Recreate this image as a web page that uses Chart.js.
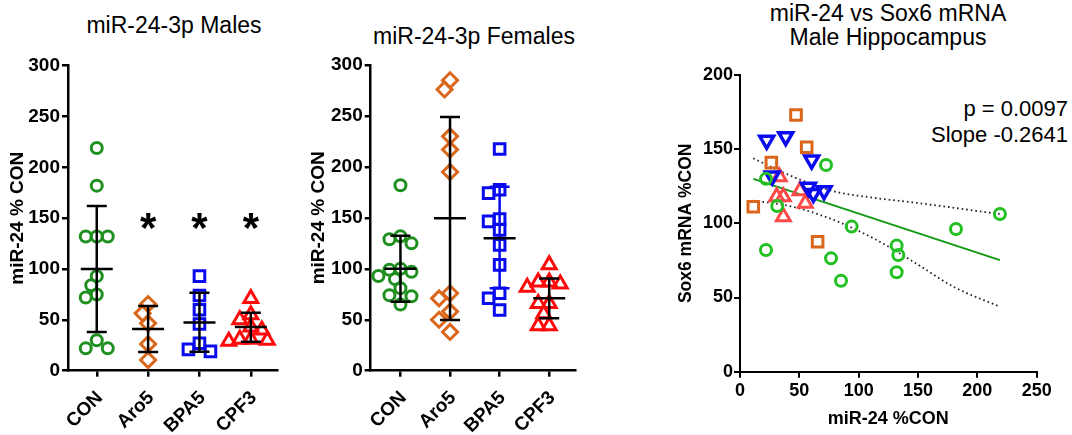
<!DOCTYPE html>
<html lang="en">
<head>
<meta charset="UTF-8">
<title>miR-24-3p</title>
<script src="https://cdn.jsdelivr.net/npm/chart.js"></script>
<style>
  body { margin: 0; width: 1072px; height: 435px; position: relative; background: #fff; overflow: hidden;
         font-family: 'Liberation Sans', Arial, sans-serif; color: #000; }
  .panel { position: absolute; top: 0; height: 435px; }
  .title { position: absolute; font-size: 23px; line-height: 24px; text-align: center; white-space: nowrap; }
  .stats { position: absolute; right: 4px; top: 96px; font-size: 22px; line-height: 26px; text-align: right; }
</style>
</head>
<body>
<div class="title" style="left:54px; width:240px; top:13px;">miR-24-3p Males</div>
<div class="title" style="left:354px; width:240px; top:24px;">miR-24-3p Females</div>
<div class="title" style="left:738px; width:300px; top:1px;">miR-24 vs Sox6 mRNA<br>Male Hippocampus</div>
<div class="stats">p = 0.0097<br>Slope -0.2641</div>

<div class="panel" style="left:0; width:300px;"><canvas id="males"></canvas></div>
<div class="panel" style="left:300px; width:300px;"><canvas id="females"></canvas></div>
<div class="panel" style="left:670px; width:402px;"><canvas id="scatter"></canvas></div>

<script>
  // ---- data ----
  const groups = ['CON', 'Aro5', 'BPA5', 'CPF3'];

  const maleCON  = [219, 182, 132, 132, 132, 93, 84, 75, 72, 30, 22, 22];
  const maleAro5 = [65.6, 56.4, 46.6, 26.2, 10.5];
  const maleBPA5 = [93, 74, 60, 46, 27, 21, 19];
  const maleCPF3 = [71, 55, 50, 43, 40, 31, 31, 30, 29];
  const maleMean = [100, 41, 47.5, 43];
  const maleSdHi = [162, 63.6, 76.7, 57];
  const maleSdLo = [38, 18.4, 18.7, 28.5];
  const maleSignif = [false, true, true, true];

  const femCON  = [182, 132, 129, 125, 100, 99, 97, 93, 90, 81, 74, 73, 65];
  const femAro5 = [285, 276, 230, 217, 195, 76, 71, 58, 50, 38];
  const femBPA5 = [217.5, 177.6, 174.3, 148.9, 146.5, 138.2, 123.5, 103.8, 76, 71.1, 59.6];
  const femCPF3 = [104, 87, 87, 85, 82, 66, 66, 56, 44, 44];
  const femMean = [100, 149.5, 130, 71];
  const femSdHi = [132.5, 249, 180.6, 90.6];
  const femSdLo = [67.7, 49.7, 80.8, 51.4];

  // scatter: miR-24 %CON (x) vs Sox6 mRNA %CON (y)
  const conX = [21.9, 31.4, 21.9, 72.5, 94.1, 76.7, 85.1, 132, 133.4, 132, 182, 219];
  const conY = [130, 111.7, 82, 139.3, 97.8, 76.4, 61.3, 85, 78.7, 67, 96.2, 106.3];
  const aroX = [47.2, 56.2, 26.4, 11.2, 65.4];
  const aroY = [173, 151.3, 140.9, 111.2, 87.6];
  const bpaX = [22.5, 38.5, 60.4, 27.2, 57.6, 61.8, 70.8];
  const bpaY = [156, 158.4, 142.7, 132, 124.3, 120.2, 122];
  const cpfX = [33.1, 30.9, 36.5, 36.5, 50.6, 55];
  const cpfY = [131.4, 118, 118, 104.5, 122, 113.5];
  const fitX = [11.2, 219];
  const fitY = [130, 75.2];
  const upperX = [11.2, 40, 77, 110, 152, 214, 219];
  const upperY = [143.8, 133, 122, 117.5, 113.5, 106.8, 106.3];
  const lowerX = [11.2, 40, 70, 95.5, 123.6, 151.7, 179.8, 219];
  const lowerY = [115.3, 112, 105, 96.6, 85, 71.3, 57.3, 43.8];

  const GREEN = '#1f8f1f', ORANGE = '#d9661a', BLUE = '#0a0aee', RED = '#ff0a0a';
  const FONT = "'Liberation Sans', Arial, sans-serif";

  // spread points sideways so markers don't sit on top of each other (like a dot plot)
  function swarm(values, center, pxPerCat, pxPerVal, diam) {
    const placed = [];
    const order = values.map((v, i) => i).sort((a, b) => values[b] - values[a]);
    order.forEach(i => {
      const v = values[i];
      let dx = 0;
      for (let k = 0; k < 30; k++) {
        const cand = k === 0 ? 0 : (k % 2 ? -1 : 1) * Math.ceil(k / 2) * 5.5;
        const hit = placed.some(p => Math.hypot(p.dx - cand, (p.v - v) * pxPerVal) < diam);
        if (!hit) { dx = cand; break; }
      }
      placed.push({ dx, v });
    });
    return placed.map(p => ({ x: center + p.dx / pxPerCat, y: p.v }));
  }

  const errorBars = {
    id: 'errorBars',
    afterDatasetsDraw(chart, args, opts) {
      if (!opts.mean) return;
      const { ctx, scales: { x, y } } = chart;
      ctx.save();
      ctx.lineWidth = 2.5;
      opts.mean.forEach((m, i) => {
        const cx = x.getPixelForValue(i);
        const yHi = y.getPixelForValue(opts.hi[i]);
        const yLo = y.getPixelForValue(opts.lo[i]);
        const yM = y.getPixelForValue(m);
        ctx.strokeStyle = opts.barColors[i];
        ctx.beginPath();
        ctx.moveTo(cx, yHi); ctx.lineTo(cx, yLo);
        ctx.moveTo(cx - 10, yHi); ctx.lineTo(cx + 10, yHi);
        ctx.moveTo(cx - 10, yLo); ctx.lineTo(cx + 10, yLo);
        ctx.stroke();
        ctx.strokeStyle = '#000';
        ctx.beginPath();
        ctx.moveTo(cx - 16, yM); ctx.lineTo(cx + 16, yM);
        ctx.stroke();
      });
      if (opts.signif) {
        ctx.fillStyle = '#000';
        ctx.font = 'bold 42px ' + FONT;
        ctx.textAlign = 'center';
        ctx.textBaseline = 'alphabetic';
        opts.signif.forEach((s, i) => {
          if (s) ctx.fillText('*', x.getPixelForValue(i), y.getPixelForValue(145) + 0.44 * 42);
        });
      }
      ctx.restore();
    }
  };

  function axisStyle(width) {
    return {
      grid: { display: true, drawOnChartArea: false, drawTicks: true, tickLength: 6, color: '#000', lineWidth: width },
      border: { display: true, color: '#000', width: width }
    };
  }

  function makeStrip(id, sets, mean, hi, lo, barColors, signif, cfg) {
    const styles = [
      { pointStyle: 'circle', pointRadius: 5.5, color: GREEN },
      { pointStyle: 'rectRot', pointRadius: 7.5, color: ORANGE },
      { pointStyle: 'rect', pointRadius: 7.5, color: BLUE },
      { pointStyle: 'triangle', pointRadius: 8, color: RED }
    ];
    const datasets = sets.map((vals, i) => ({
      label: groups[i],
      data: swarm(vals, i, cfg.pxPerCat, 1.017, 10.5),
      pointStyle: styles[i].pointStyle,
      pointRadius: styles[i].pointRadius,
      pointBorderWidth: 3,
      pointBorderColor: styles[i].color,
      pointBackgroundColor: 'rgba(0,0,0,0)'
    }));
    return new Chart(document.getElementById(id), {
      type: 'scatter',
      data: { datasets },
      options: {
        responsive: true,
        maintainAspectRatio: false,
        animation: false,
        layout: { padding: { top: cfg.top, right: cfg.right, left: 0, bottom: 0 } },
        plugins: {
          legend: { display: false },
          tooltip: { enabled: false },
          errorBars: { mean, hi, lo, barColors, signif }
        },
        scales: {
          x: {
            type: 'linear', min: cfg.xMin, max: cfg.xMax,
            ...axisStyle(2.5),
            afterBuildTicks: s => { s.ticks = groups.map((g, i) => ({ value: i })); },
            afterFit: s => { s.height = 435 - cfg.bottom; },
            ticks: {
              autoSkip: false, minRotation: 45, maxRotation: 45, padding: 10, labelOffset: 3, color: '#000',
              font: { family: FONT, size: 19, weight: 'bold' },
              callback: v => groups[v]
            }
          },
          y: {
            min: 0, max: 300,
            ...axisStyle(2.5),
            afterFit: s => { s.width = cfg.left; },
            ticks: { stepSize: 50, padding: 2, color: '#000', font: { family: FONT, size: 19, weight: 'bold' } },
            title: {
              display: true, text: 'miR-24 % CON', color: '#000', padding: { top: cfg.titlePad, bottom: 0 },
              font: { family: FONT, size: 19, weight: 'bold' }
            }
          }
        }
      },
      plugins: [errorBars]
    });
  }

  makeStrip('males', [maleCON, maleAro5, maleBPA5, maleCPF3], maleMean, maleSdHi, maleSdLo,
    ['#000', '#000', '#000', '#000'], maleSignif,
    { top: 65.7, bottom: 370.7, left: 68, right: 23, xMin: -0.56, xMax: 3.51, pxPerCat: 51.3, titlePad: 6 });

  makeStrip('females', [femCON, femAro5, femBPA5, femCPF3], femMean, femSdHi, femSdLo,
    ['#000', '#000', BLUE, '#000'], null,
    { top: 65, bottom: 370.7, left: 70.7, right: 25, xMin: -0.6, xMax: 3.52, pxPerCat: 49.5, titlePad: 7 });

  // ---- regression scatter ----
  const toPts = (xs, ys) => xs.map((v, i) => ({ x: v, y: ys[i] }));
  const LIME = '#22c022';

  new Chart(document.getElementById('scatter'), {
    type: 'scatter',
    data: {
      datasets: [
        { label: 'CON', data: toPts(conX, conY), pointStyle: 'circle', pointRadius: 5.5, pointBorderWidth: 3,
          pointBorderColor: LIME, pointBackgroundColor: 'rgba(0,0,0,0)' },
        { label: 'Aro5', data: toPts(aroX, aroY), pointStyle: 'rect', pointRadius: 7.5, pointBorderWidth: 3,
          pointBorderColor: ORANGE, pointBackgroundColor: 'rgba(0,0,0,0)' },
        { label: 'BPA5', data: toPts(bpaX, bpaY), pointStyle: 'triangle', pointRotation: 180, pointRadius: 8,
          pointBorderWidth: 3.5, pointBorderColor: BLUE, pointBackgroundColor: 'rgba(0,0,0,0)' },
        { label: 'CPF3', data: toPts(cpfX, cpfY), pointStyle: 'triangle', pointRadius: 8, pointBorderWidth: 3,
          pointBorderColor: '#ff4848', pointBackgroundColor: 'rgba(0,0,0,0)' },
        { label: 'fit', data: toPts(fitX, fitY), showLine: true, pointRadius: 0, borderColor: '#119911', borderWidth: 2 },
        { label: 'upper', data: toPts(upperX, upperY), showLine: true, pointRadius: 0, borderColor: '#222',
          borderWidth: 1.8, borderDash: [1.6, 3], cubicInterpolationMode: 'monotone' },
        { label: 'lower', data: toPts(lowerX, lowerY), showLine: true, pointRadius: 0, borderColor: '#222',
          borderWidth: 1.8, borderDash: [1.6, 3], cubicInterpolationMode: 'monotone' }
      ]
    },
    options: {
      responsive: true,
      maintainAspectRatio: false,
      animation: false,
      layout: { padding: { top: 75, right: 35.3, left: 0, bottom: 0 } },
      plugins: { legend: { display: false }, tooltip: { enabled: false } },
      scales: {
        x: {
          type: 'linear', min: 0, max: 250,
          ...axisStyle(2),
          afterFit: s => { s.height = 435 - 371.7; },
          ticks: { stepSize: 50, padding: 3, maxRotation: 0, color: '#000', font: { family: FONT, size: 18, weight: 'bold' } },
          title: {
            display: true, text: 'miR-24 %CON', color: '#000', padding: { top: 0, bottom: 5 },
            font: { family: FONT, size: 18, weight: 'bold' }
          }
        },
        y: {
          min: 0, max: 200,
          ...axisStyle(2),
          afterFit: s => { s.width = 70; },
          ticks: { stepSize: 50, padding: 1, color: '#000', font: { family: FONT, size: 18, weight: 'bold' } },
          title: {
            display: true, text: 'Sox6 mRNA %CON', color: '#000', padding: { top: 6, bottom: 0 },
            font: { family: FONT, size: 17.5, weight: 'bold' }
          }
        }
      }
    }
  });
</script>
</body>
</html>
